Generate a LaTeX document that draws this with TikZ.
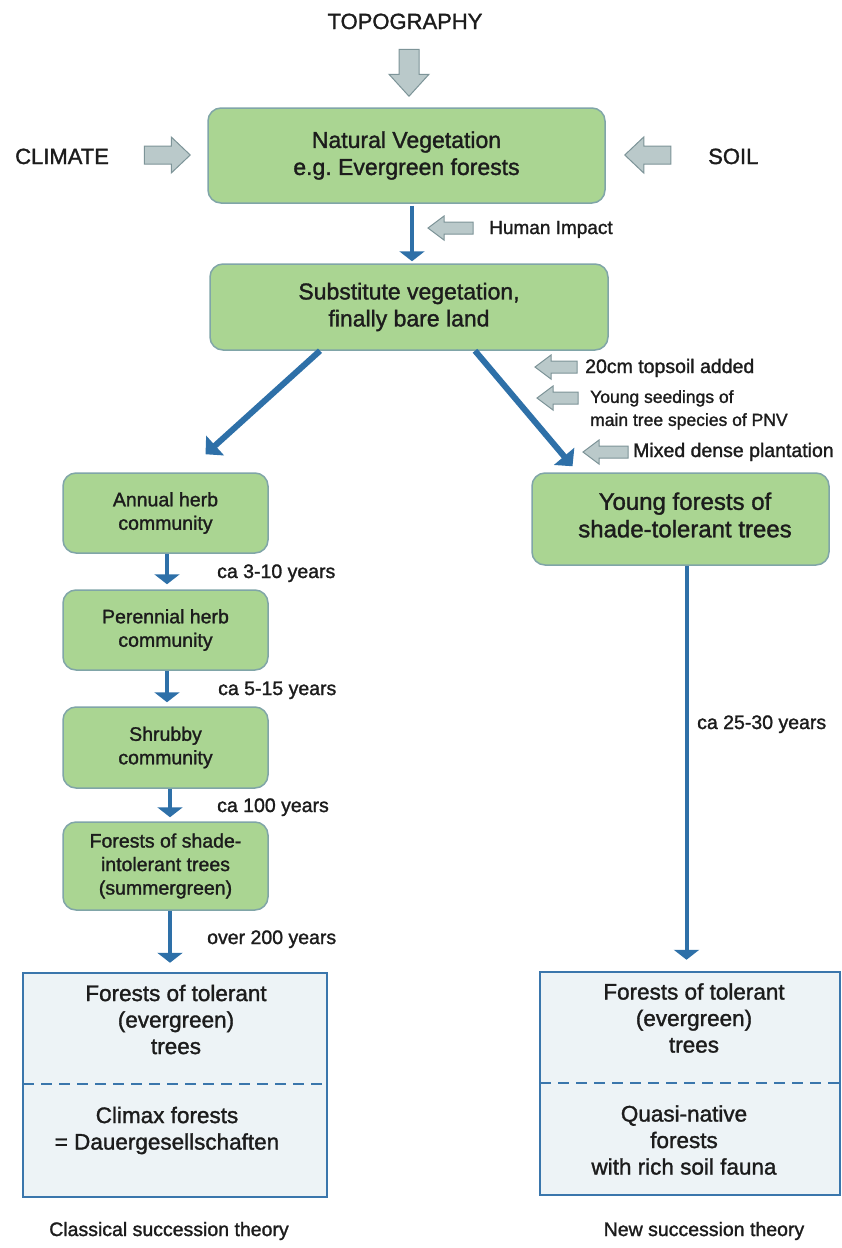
\documentclass[tikz,border=0pt]{standalone}
\usepackage{fontspec}
\setmainfont{Liberation Sans}[FakeBold=1.4]
\usetikzlibrary{arrows.meta,calc}
\definecolor{boxgreen}{RGB}{170,213,146}
\definecolor{boxedge}{RGB}{128,165,168}
\definecolor{arrblue}{RGB}{46,112,168}
\definecolor{resfill}{RGB}{237,243,246}
\definecolor{resedge}{RGB}{58,118,172}
\definecolor{gfill}{RGB}{186,201,202}
\definecolor{gedge}{RGB}{125,148,152}
\definecolor{txt}{RGB}{28,28,28}
\newcommand\blockarr[5]{%
  \coordinate (baT) at (#1);
  \coordinate (baH) at (#2);
  \coordinate (baM) at ($(baH)!#5!(baT)$);
  \draw[garrow] ($(baT)!#3!90:(baH)$) -- ($(baM)!#3!90:(baH)$) -- ($(baM)!#4!90:(baH)$) -- (baH)
    -- ($(baM)!#4!-90:(baH)$) -- ($(baM)!#3!-90:(baH)$) -- ($(baT)!#3!-90:(baH)$) -- cycle;}
\begin{document}
\begin{tikzpicture}[x=1pt,y=1pt,
  every node/.style={text=txt},
  greenbox/.style={draw=boxedge, line width=1.5pt, fill=boxgreen, rounded corners=13pt, inner sep=0pt, align=center},
  resbox/.style={draw=resedge, line width=2.5pt, fill=resfill, inner sep=0pt},
  flow/.style={draw=arrblue, line width=4.5pt, -{Triangle[width=25pt,length=10pt]}},
  diag/.style={flow, line width=6pt, -{Triangle[width=26pt,length=13pt]}},
  garrow/.style={draw=gedge, fill=gfill, line width=1pt, line join=miter},
  dashline/.style={draw=resedge, line width=2pt, dash pattern=on 11pt off 7pt},
  bigtxt/.style={font=\fontsize{23}{27}\selectfont},
  ytxt/.style={font=\fontsize{24}{27.5}\selectfont, align=center, inner sep=0pt},
  smalltxt/.style={font=\fontsize{19.5}{23.5}\selectfont},
  restxt/.style={font=\fontsize{22.5}{26.5}\selectfont, align=center, inner sep=0pt},
  headtxt/.style={font=\fontsize{22}{26}\selectfont, inner sep=0pt},
  lbl/.style={font=\fontsize{19.5}{23}\selectfont, anchor=base west, inner sep=0pt},
  caption/.style={font=\fontsize{19.5}{23}\selectfont, anchor=base, inner sep=0pt}
]
\useasboundingbox (0,0) rectangle (842,-1248);
\fill[white] (0,0) rectangle (842,-1248);

% headings
\node[headtxt, anchor=base] (topo) at (405,-29) {TOPOGRAPHY};
\node[headtxt, anchor=base west] (clim) at (15,-164) {CLIMATE};
\node[headtxt, anchor=base west] (soil) at (708,-164) {SOIL};

% main boxes
\node[greenbox, bigtxt, minimum width=397pt, minimum height=95pt] (nat) at (406.5,-155.5) {Natural Vegetation\\e.g.\ Evergreen forests};
\node[greenbox, bigtxt, minimum width=398pt, minimum height=86pt] (sub) at (409,-307) {Substitute vegetation,\\finally bare land};

\node[greenbox, smalltxt, minimum width=205pt, minimum height=80pt] (a1) at (165.5,-513) {Annual herb\\community};
\node[greenbox, smalltxt, minimum width=205pt, minimum height=80pt] (a2) at (165.5,-630) {Perennial herb\\community};
\node[greenbox, smalltxt, minimum width=205pt, minimum height=81pt] (a3) at (165.5,-747.5) {Shrubby\\community};
\node[greenbox, smalltxt, minimum width=205pt, minimum height=88pt] (a4) at (165.5,-866) {Forests of shade-\\intolerant trees\\(summergreen)};

\node[greenbox, minimum width=297pt, minimum height=92pt] (yf) at (680.5,-519) {};
\node[ytxt] (yft) at (685,-515) {Young forests of\\shade-tolerant trees};

% result boxes
\node[resbox, minimum width=304pt, minimum height=224pt] (r1) at (175,-1085) {};
\draw[dashline] ($(r1.west)+(1.5,1)$) -- ($(r1.east)+(-1.5,1)$);
\node[restxt] (r1a) at (176,-1019.5) {Forests of tolerant\\(evergreen)\\trees};
\node[restxt] (r1b) at (167,-1130.5) {Climax forests\\= Dauergesellschaften};

\node[resbox, minimum width=300pt, minimum height=223pt] (r2) at (690,-1083.5) {};
\draw[dashline] ($(r2.west)+(1.5,0.5)$) -- ($(r2.east)+(-1.5,0.5)$);
\node[restxt] (r2a) at (694,-1018) {Forests of tolerant\\(evergreen)\\trees};
\node[restxt] (r2b) at (684,-1140) {Quasi-native\\forests\\with rich soil fauna};

% grey block arrows
\coordinate (topoT) at ($(nat.north)+(2.5,58)$);
\coordinate (topoH) at ($(nat.north)+(2.5,11)$);
\blockarr{topoT}{topoH}{10pt}{20pt}{22pt}
\coordinate (climT) at ($(nat.west)+(-63,0.5)$);
\coordinate (climH) at ($(nat.west)+(-17,0.5)$);
\blockarr{climT}{climH}{9pt}{18pt}{19pt}
\coordinate (soilT) at ($(nat.east)+(65,0.5)$);
\coordinate (soilH) at ($(nat.east)+(19,0.5)$);
\blockarr{soilT}{soilH}{9pt}{18pt}{19pt}

\coordinate (humT) at (473,-228);
\coordinate (humH) at (428,-228);
\blockarr{humT}{humH}{6pt}{12pt}{16pt}
\node[lbl, font=\fontsize{19}{22}\selectfont] (hum) at (489,-234) {Human Impact};

\coordinate (topsT) at (577,-367);
\coordinate (topsH) at (535,-367);
\blockarr{topsT}{topsH}{6pt}{12pt}{16pt}
\node[lbl] (tops) at (585,-373) {20cm topsoil added};

\coordinate (seedT) at (578,-398);
\coordinate (seedH) at (537,-398);
\blockarr{seedT}{seedH}{6pt}{12pt}{16pt}
\node[font=\fontsize{17.5}{23}\selectfont, align=left, anchor=north west, inner sep=0pt] (seed) at (590,-390) {Young seedings of\\main tree species of PNV};

\coordinate (mixT) at (628,-452);
\coordinate (mixH) at (583,-452);
\blockarr{mixT}{mixH}{6pt}{12pt}{16pt}
\node[lbl] (mix) at (633,-457) {Mixed dense plantation};

% blue flow arrows
\draw[flow] ($(nat.south)+(5.5,-2)$) -- ($(sub.north)+(3,2)$);
\draw[diag] ($(sub.south)+(-89,0)$) -- ($(a1.north)+(40,18)$);
\draw[diag] ($(sub.south)+(66,0)$) -- ($(yf.north)+(-108,6)$);

\draw[flow] ($(a1.south)+(1.5,0)$) -- ($(a2.north)+(1.5,5)$);
\draw[flow] ($(a2.south)+(1.5,0)$) -- ($(a3.north)+(1.5,4)$);
\draw[flow] ($(a3.south)+(4.5,0)$) -- ($(a4.north)+(4.5,4)$);
\draw[flow] ($(a4.south)+(4.5,0)$) -- ($(r1.north)+(-5,9)$);
\draw[flow, line width=4pt] ($(yf.south)+(6,0)$) -- ($(r2.north)+(-3.5,11)$);

% duration labels
\node[lbl] (d1) at (217,-578) {ca 3-10 years};
\node[lbl] (d2) at (218,-695) {ca 5-15 years};
\node[lbl] (d3) at (217,-812) {ca 100 years};
\node[lbl] (d4) at (207,-944) {over 200 years};
\node[lbl] (d5) at (697,-729) {ca 25-30 years};

% captions
\node[caption] (c1) at (169,-1236) {Classical succession theory};
\node[caption] (c2) at (704,-1236) {New succession theory};
\end{tikzpicture}
\end{document}
